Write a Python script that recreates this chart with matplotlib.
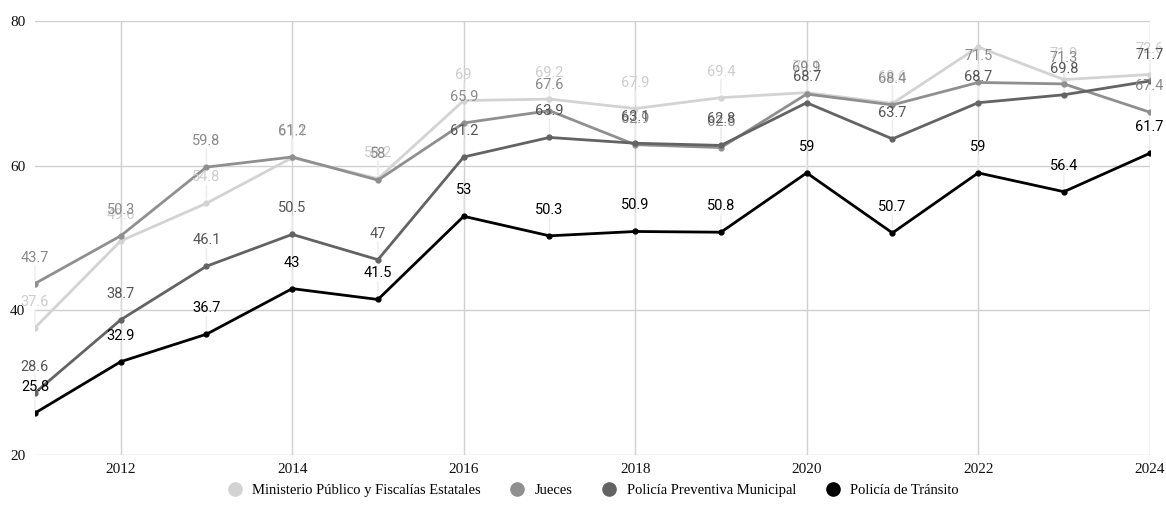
import matplotlib
matplotlib.use('Agg')
import matplotlib.pyplot as plt
from matplotlib.lines import Line2D

years = [2011, 2012, 2013, 2014, 2015, 2016, 2017, 2018, 2019, 2020, 2021, 2022, 2023, 2024]

ministerio = [37.6, 49.6, 54.8, 61.1, 58.2, 69, 69.2, 67.9, 69.4, 70.1, 68.6, 76.4, 71.9, 72.6]
jueces = [43.7, 50.3, 59.8, 61.2, 58, 65.9, 67.6, 62.9, 62.5, 69.9, 68.4, 71.5, 71.3, 67.4]
preventiva = [28.6, 38.7, 46.1, 50.5, 47, 61.2, 63.9, 63.1, 62.8, 68.7, 63.7, 68.7, 69.8, 71.7]
transito = [25.8, 32.9, 36.7, 43, 41.5, 53, 50.3, 50.9, 50.8, 59, 50.7, 59, 56.4, 61.7]

series_names = ['Ministerio Público y Fiscalías Estatales', 'Jueces',
                'Policía Preventiva Municipal', 'Policía de Tránsito']
series_values = [ministerio, jueces, preventiva, transito]
series_colors = ['#d3d3d3', '#8f8f8f', '#636363', '#000000']
label_colors = ['#cdcdcd', '#8a8a8a', '#555555', '#000000']

y_ticks = [20, 40, 60, 80]
x_ticks = [2012, 2014, 2016, 2018, 2020, 2022, 2024]

fig = plt.figure(figsize=(11.66, 5.08), dpi=100)
ax = fig.add_axes([0.030, 0.1043, 0.956, 0.8544])

ax.set_xlim(2011, 2024)
ax.set_ylim(20, 80)
ax.set_yticks(y_ticks)
ax.set_xticks(x_ticks)
ax.grid(True, color='#d0d0d0', linewidth=1.0)
ax.set_axisbelow(True)
for sp in ax.spines.values():
    sp.set_visible(False)
ax.tick_params(length=0)
ax.tick_params(axis='y', pad=7)
ax.tick_params(axis='x', pad=6)
for lab in ax.get_xticklabels() + ax.get_yticklabels():
    lab.set_fontfamily('Liberation Serif')
    lab.set_fontsize(11)
    lab.set_color('#111111')

# lines with small dot markers
for vals, col in zip(series_values, series_colors):
    ax.plot(years, vals, color=col, linewidth=2.0, marker='o', markersize=3.5,
            zorder=3, solid_joinstyle='round')

# value labels above each point, with a faint stem down to the point
px_per_unit = ax.get_window_extent().height / (80 - 20)
offset = 26
for vals, col in zip(series_values, label_colors):
    for x, y in zip(years, vals):
        if y + offset / px_per_unit > 80 - 1:
            continue  # no room above the plot area
        ax.annotate('', xy=(x, y), xytext=(0, offset - 8), textcoords='offset pixels',
                    arrowprops=dict(arrowstyle='-', color='#ececec', lw=1.0,
                                    shrinkA=0, shrinkB=3), zorder=2)
        ax.annotate('{:g}'.format(y), xy=(x, y), xytext=(0, offset),
                    textcoords='offset pixels', ha='center', va='center',
                    fontsize=10.5, fontfamily='Roboto', color=col, zorder=5)

handles = [Line2D([], [], linestyle='none', marker='o', markersize=9.5,
                  markerfacecolor=c, markeredgecolor=c) for c in series_colors]
fig.legend(handles, series_names, loc='center', ncol=4, frameon=False,
           bbox_to_anchor=(0.508, 0.035), handletextpad=0.6, columnspacing=1.9,
           handlelength=1.2, prop={'family': 'Liberation Serif', 'size': 10.5})

fig.savefig('out.png', dpi=100)
